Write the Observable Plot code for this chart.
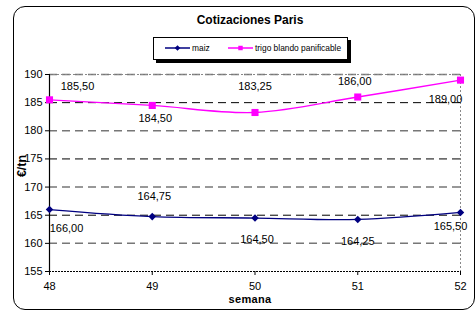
<!DOCTYPE html>
<html>
<head>
<meta charset="utf-8">
<script src="https://cdn.jsdelivr.net/npm/d3@7"></script>
<script src="https://cdn.jsdelivr.net/npm/@observablehq/plot@0.6"></script>
<style>
  html, body { margin:0; padding:0; background:#fff; }
  #wrap { position:relative; width:475px; height:311px; overflow:hidden; font-family:"Liberation Sans", Arial, sans-serif; }
  #frame { position:absolute; left:13px; top:6px; width:460px; height:302px; border:1.5px solid #000; border-radius:12px; }
  #title { position:absolute; left:0; width:500px; top:13px; text-align:center; font-weight:bold; font-size:12px; }
  #legend { position:absolute; left:153px; top:37px; width:193px; height:21px; border:1px solid #000; background:#fff; box-shadow:3px 3px 0 #000; font-size:8.4px; }
  #legend .item { position:absolute; top:5px; display:flex; align-items:center; white-space:nowrap; }
  #xlab { position:absolute; left:0; width:500px; top:293px; text-align:center; font-weight:bold; font-size:11px; letter-spacing:0.3px; }
  #ylab { position:absolute; left:22px; top:166px; transform:translate(-50%,-50%) rotate(-90deg); font-weight:bold; font-size:12.5px; white-space:nowrap; }
  #chart { position:absolute; left:0; top:0; }
</style>
</head>
<body>
<div id="wrap">
  <div id="frame"></div>
  <div id="chart"></div>
  <div id="title"></div>
  <div id="legend"></div>
  <div id="xlab"></div>
  <div id="ylab"></div>
</div>
<script>
const titleText = "Cotizaciones Paris";
const xLabel = "semana";
const yLabel = "€/tn";
const weeks = [48, 49, 50, 51, 52];
const seriesNames = ["maiz", "trigo blando panificable"];
const maiz = [166.00, 164.75, 164.50, 164.25, 165.50];
const trigo = [185.50, 184.50, 183.25, 186.00, 189.00];
const yTicks = [155, 160, 165, 170, 175, 180, 185, 190];

// label placement (styling only)
const maizLabelOffsets = [[17, 19], [2, -20], [2, 21], [0, 22], [-10, 14]];
const trigoLabelOffsets = [[28, -13], [3, 13], [0, -26], [-3, -16], [-15, 19]];

const colors = {maiz: "#000080", trigo: "#FF00FF"};
const fmt = v => d3.format(".2f")(v).replace(".", ",");

const maizRows = weeks.map((w, i) => ({week: w, value: maiz[i]}));
const trigoRows = weeks.map((w, i) => ({week: w, value: trigo[i]}));

const labelMarks = (rows, offsets) => rows.map((r, i) =>
  Plot.text([r], {x: "week", y: "value", text: d => fmt(d.value), dx: offsets[i][0], dy: offsets[i][1], fill: "#000", fontSize: 11})
);

const gridTicks = yTicks.filter(t => t > 155);

const chart = Plot.plot({
  width: 475, height: 311,
  marginTop: 74, marginBottom: 40, marginLeft: 49, marginRight: 15,
  style: {fontFamily: "'Liberation Sans', Arial, sans-serif", fontSize: "11px", color: "#000", background: "transparent", overflow: "visible"},
  x: {domain: [48, 52], ticks: weeks, tickFormat: d => String(d), tickSize: 4, tickPadding: 7, label: null},
  y: {domain: [155, 190], ticks: yTicks, tickSize: 4, tickPadding: 3, label: null},
  marks: [
    Plot.ruleY(gridTicks.filter((t, i) => i % 2 === 0), {stroke: "#777", strokeWidth: 1.5, strokeDasharray: "8,5"}),
    Plot.ruleY(gridTicks.filter((t, i) => i % 2 === 1), {stroke: "#000", strokeWidth: 1, strokeDasharray: "8,5"}),
    Plot.ruleY([190], {stroke: "#888", strokeWidth: 1, strokeDasharray: "2,2"}),
    Plot.ruleX([52], {stroke: "#888", strokeWidth: 1, strokeDasharray: "2,2"}),
    Plot.ruleY([155], {stroke: "#000", strokeWidth: 1.2, strokeDasharray: "2,1"}),
    Plot.ruleX([48], {stroke: "#000", strokeWidth: 1.2}),
    Plot.axisX({ticks: weeks, tickFormat: d => String(d), tickSize: 4, tickPadding: 7, stroke: "#000"}),
    Plot.axisY({ticks: yTicks, tickSize: 4, tickPadding: 3}),
    Plot.line(trigoRows, {x: "week", y: "value", stroke: colors.trigo, strokeWidth: 1.3, curve: "catmull-rom"}),
    Plot.line(maizRows, {x: "week", y: "value", stroke: colors.maiz, strokeWidth: 1.3, curve: "catmull-rom"}),
    Plot.dot(trigoRows, {x: "week", y: "value", symbol: "square", r: 4, fill: colors.trigo, stroke: "none"}),
    Plot.dot(maizRows, {x: "week", y: "value", symbol: "diamond2", r: 3.4, fill: colors.maiz, stroke: "none"}),
    ...labelMarks(trigoRows, trigoLabelOffsets),
    ...labelMarks(maizRows, maizLabelOffsets)
  ]
});
document.getElementById("chart").appendChild(chart);

document.getElementById("title").textContent = titleText;
document.getElementById("xlab").textContent = xLabel;
document.getElementById("ylab").textContent = yLabel;

// legend
const legend = document.getElementById("legend");
const swatch = (color, symbol) => {
  const ns = "http://www.w3.org/2000/svg";
  const svg = document.createElementNS(ns, "svg");
  svg.setAttribute("width", 25); svg.setAttribute("height", 10);
  const line = document.createElementNS(ns, "line");
  line.setAttribute("x1", 0); line.setAttribute("x2", 25); line.setAttribute("y1", 5); line.setAttribute("y2", 5);
  line.setAttribute("stroke", color); line.setAttribute("stroke-width", 1.5);
  svg.appendChild(line);
  const p = document.createElementNS(ns, "path");
  p.setAttribute("d", d3.symbol(symbol, 20)());
  p.setAttribute("transform", "translate(12.5,5)");
  p.setAttribute("fill", color);
  svg.appendChild(p);
  return svg;
};
const items = [
  {name: seriesNames[0], color: colors.maiz, symbol: d3.symbolDiamond2, left: 11},
  {name: seriesNames[1], color: colors.trigo, symbol: d3.symbolSquare, left: 74}
];
items.forEach(it => {
  const d = document.createElement("div");
  d.className = "item";
  d.style.left = it.left + "px";
  d.appendChild(swatch(it.color, it.symbol));
  const s = document.createElement("span");
  s.textContent = it.name;
  s.style.marginLeft = "2px";
  d.appendChild(s);
  legend.appendChild(d);
});
</script>
</body>
</html>
